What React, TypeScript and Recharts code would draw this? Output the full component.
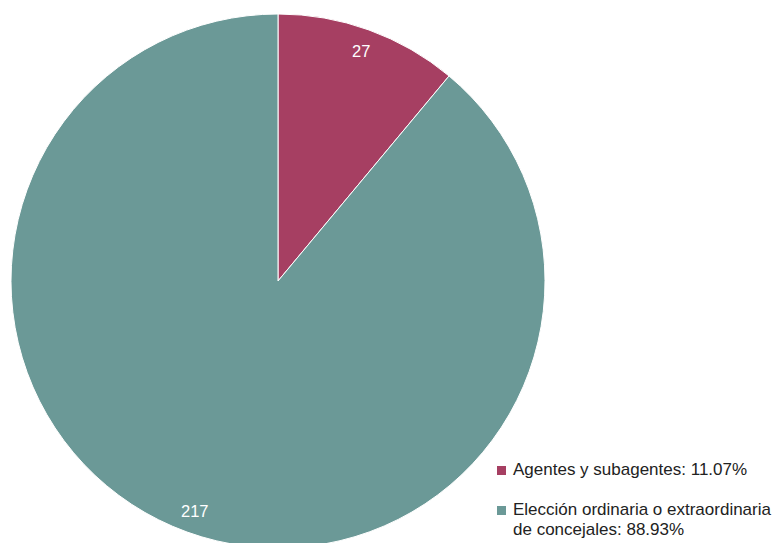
import { PieChart, Pie, Cell, Legend } from "recharts"

const categories = ["Agentes y subagentes", "Elección ordinaria o extraordinaria de concejales"]
const values = [27, 217]
const colors = ["#A63F62", "#6B9997"]

const total = values.reduce((s, v) => s + v, 0)
const data = categories.map((name, i) => ({ name, value: values[i] }))

const RADIAN = Math.PI / 180

function renderLabel(props: any) {
  const { cx, cy, midAngle, outerRadius, value } = props
  const r = outerRadius * 0.915
  const x = cx + r * Math.cos(-midAngle * RADIAN)
  const y = cy + r * Math.sin(-midAngle * RADIAN)
  return (
    <text x={x} y={y} fill="#fff" fontSize={16.5} textAnchor="middle" dominantBaseline="central" fontFamily="'Liberation Sans', Arial, sans-serif">
      {value}
    </text>
  )
}

function LegendContent() {
  return (
    <div style={{ fontFamily: "'Liberation Sans', Arial, sans-serif", fontSize: 17, color: "#222", lineHeight: "20px" }}>
      {data.map((d, i) => (
        <div key={d.name} style={{ display: "flex", alignItems: "flex-start", marginBottom: 20 }}>
          <span style={{ width: 9, height: 9, background: colors[i], marginTop: 6, marginRight: 7, flexShrink: 0 }} />
          <span>{d.name}: {((d.value / total) * 100).toFixed(2)}%</span>
        </div>
      ))}
    </div>
  )
}

export default function App() {
  return (
    <div style={{ position: "absolute", left: 0, top: 0, width: 779, height: 543, background: "#fff", overflow: "hidden" }}>
      <PieChart width={779} height={543} margin={{ top: 0, right: 0, bottom: 0, left: 0 }}>
        <Pie
          data={data}
          dataKey="value"
          nameKey="name"
          cx={278}
          cy={281}
          outerRadius={267}
          startAngle={90}
          endAngle={-270}
          stroke="#fff"
          strokeWidth={1}
          label={renderLabel}
          labelLine={false}
          isAnimationActive={false}
        >
          {data.map((d, i) => (
            <Cell key={d.name} fill={colors[i]} />
          ))}
        </Pie>
        <Legend content={<LegendContent />} layout="vertical" wrapperStyle={{ left: 497, top: 460, width: 282 }} />
      </PieChart>
    </div>
  )
}
